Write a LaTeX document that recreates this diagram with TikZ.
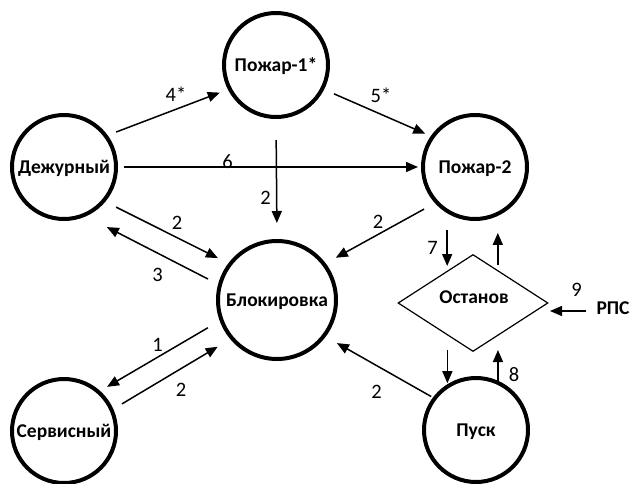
\documentclass[tikz,border=0pt]{standalone}
\usepackage{fontspec}
\setmainfont{Carlito}
\usetikzlibrary{arrows.meta,shapes.geometric}
\begin{document}
\begin{tikzpicture}[x=1pt,y=-1pt,
  state/.style={circle,draw,line width=4pt,minimum size=104pt,inner sep=0pt,
    font=\fontsize{19.5}{22}\selectfont\bfseries,text height=12.5pt,text depth=0pt},
  txt/.style={inner sep=0pt,font=\fontsize{19.5}{22}\selectfont\bfseries,text height=12.5pt,text depth=0pt},
  arr/.style={line width=1.5pt,-{Triangle[length=12pt,width=10pt]}},
  num/.style={font=\fontsize{20.5}{24}\selectfont,inner sep=0pt}]
\useasboundingbox[fill=white] (0,0) rectangle (635,483);
% states
\node[state] (dej) at (64,167) {Дежурный};
\node[state] (p1) at (276,65) {Пожар-1*};
\node[state] (p2) at (475,167) {Пожар-2};
\node[state,minimum size=118pt] (blk) at (277,300) {Блокировка};
\node[state] (srv) at (64,431) {Сервисный};
\node[state] (pusk) at (476,430) {Пуск};
\node[diamond,draw,line width=1.2pt,minimum width=150pt,minimum height=97pt,inner sep=0pt] (stop) at (473,303) {};
\node[txt] (stoplbl) at (474,297) {Останов};
\node[txt] (rps) at (613,308) {РПС};
% connectors
\draw[arr,shorten <=9pt,shorten >=8.7pt] (dej.36) -- (p1.207);
\draw[arr,shorten <=10.8pt,shorten >=6pt] (p1.333) -- (p2.145);
\draw[arr,shorten <=5.5pt,shorten >=3pt] (dej.east) -- (p2.west);
\draw[arr,shorten <=21pt,shorten >=16pt] (p1.south) -- (blk.north);
\draw[arr,shorten <=12pt,shorten >=11.6pt] (dej.320) -- (blk.143);
\draw[arr,shorten <=11.3pt,shorten >=23.5pt] (blk.165) -- (dej.294);
\draw[arr,shorten <=12.3pt,shorten >=11.5pt] (p2.222) -- (blk.37);
\draw[arr,shorten <=13.6pt,shorten >=8pt] (blk.200) -- (srv.48);
\draw[arr,shorten <=10pt,shorten >=14.6pt] (srv.24) -- (blk.220);
\draw[arr,shorten <=2pt,shorten >=12.9pt] (pusk.143) -- (blk.323);
\draw[arr,shorten <=17pt,shorten >=37pt] (p2.239) -- (p2.239 |- stop.west);
\draw[arr,shorten <=38pt,shorten >=17pt] (p2.295 |- stop.east) -- (p2.295);
\draw[arr,shorten <=47pt,shorten >=1pt] (pusk.122 |- stop.west) -- (pusk.122);
\draw[arr,shorten >=47pt] (pusk.66) -- (pusk.66 |- stop.east);
\draw[arr,shorten <=10pt,shorten >=1.4pt] ([yshift=-3pt]rps.west) -- ([yshift=-3pt]rps.west -| stop.east);
% labels
\node[num] (l4) at (176,94) {4*};
\node[num] (l5) at (381,95) {5*};
\node[num] (l6) at (227.5,161.5) {6};
\node[num] (l2a) at (265.5,197.5) {2};
\node[num] (l2b) at (177,222.5) {2};
\node[num] (l3) at (157.5,275) {3};
\node[num] (l2c) at (378,221.5) {2};
\node[num] (l1) at (157.5,344.5) {1};
\node[num] (l2d) at (181,390) {2};
\node[num] (l2e) at (376.5,392) {2};
\node[num] (l7) at (432.5,248) {7};
\node[num] (l9) at (576.5,290) {9};
\node[num] (l8) at (514,375) {8};
\end{tikzpicture}
\end{document}
